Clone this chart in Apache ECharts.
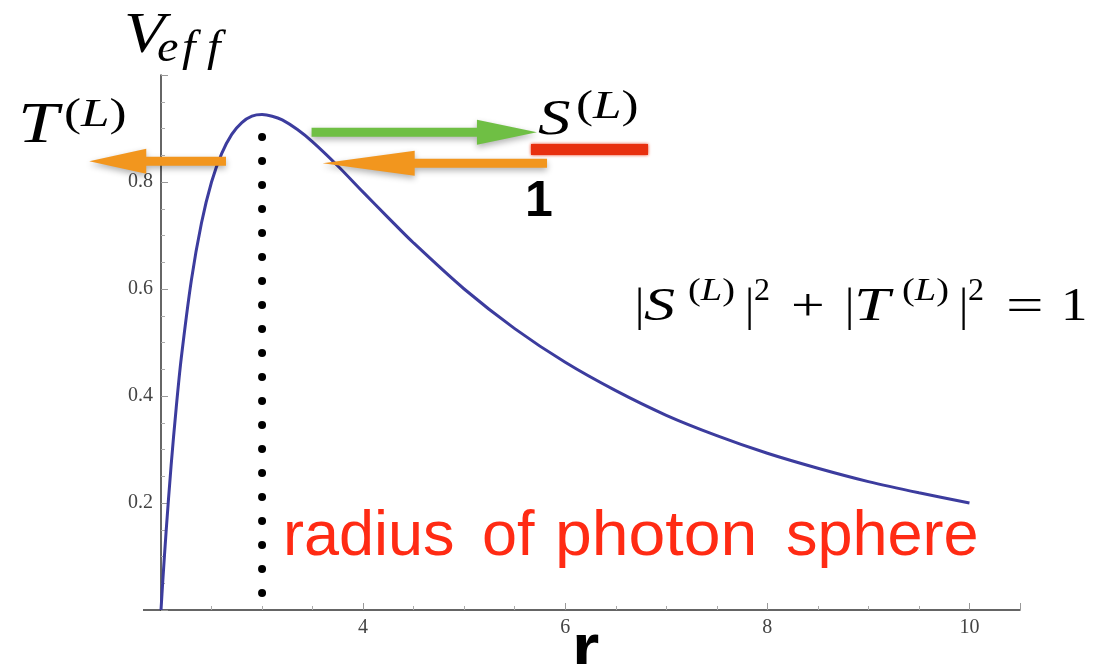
<!DOCTYPE html>
<html><head><meta charset="utf-8">
<script src="https://cdn.jsdelivr.net/npm/echarts@6/dist/echarts.min.js"></script>
<style>html,body{margin:0;padding:0;background:#fff}#c{width:1099px;height:664px}</style>
</head><body><div id="c"></div>
<script>
// ---- data ----
const rValues = [2, 2.01, 2.02, 2.05, 2.1, 2.15, 2.2, 2.3, 2.4, 2.5, 2.6, 2.7, 2.8, 2.9, 3, 3.1, 3.2, 3.35, 3.5, 3.75, 4, 4.25, 4.5, 5, 5.5, 6, 6.5, 7, 7.5, 8, 8.5, 9, 9.5, 10];
const vEff    = [0, 0.031, 0.061, 0.145, 0.27, 0.377, 0.47, 0.616, 0.723, 0.80, 0.853, 0.889, 0.911, 0.923, 0.926, 0.923, 0.916, 0.898, 0.875, 0.83, 0.781, 0.733, 0.686, 0.60, 0.526, 0.463, 0.41, 0.364, 0.326, 0.293, 0.265, 0.24, 0.219, 0.20];
const xTickLabels = [4, 6, 8, 10];
const yTickLabels = [0.2, 0.4, 0.6, 0.8];
const photonR = 3;
const photonTop = 0.884;
const photonBottom = 0.03;
// arrows in data units: start r, tip r, V level
const arrowT  = [2.643, 1.29, 0.839];
const arrowIn = [5.82, 3.60, 0.835];
const arrowS  = [3.49, 5.72, 0.893];

const serif = '"Liberation Serif", "DejaVu Serif", serif';
const sans = '"Liberation Sans", Arial, sans-serif';
const near = (v, list) => list.some(t => Math.abs(t - v) < 1e-6);

const chart = echarts.init(document.getElementById('c'), null, {renderer: 'canvas'});
const axisCommon = {
  type: 'value',
  axisLine: {onZero: false, lineStyle: {color: '#333', width: 1.5}},
  axisTick: {inside: true, length: 7, lineStyle: {color: '#999', width: 1}},
  minorTick: {show: true, splitNumber: 4, length: 4, lineStyle: {color: '#aaa', width: 1}},
  splitLine: {show: false}
};
chart.setOption({
  animation: false,
  backgroundColor: '#fff',
  grid: {left: 161, right: 79, top: 75, bottom: 54},
  xAxis: Object.assign({}, axisCommon, {
    min: 2, max: 10.5, interval: 2,
    axisLabel: {margin: 8, fontFamily: serif, fontSize: 20, color: '#444',
      formatter: v => near(v, xTickLabels) ? String(v) : ''}
  }),
  yAxis: Object.assign({}, axisCommon, {
    min: 0, max: 1, interval: 0.2,
    axisLabel: {margin: 8, fontFamily: serif, fontSize: 20, color: '#444',
      formatter: v => near(v, yTickLabels) ? v.toFixed(1) : ''}
  }),
  series: [
    {type: 'line', data: rValues.map((r, i) => [r, vEff[i]]), showSymbol: false, smooth: 0.3,
     lineStyle: {color: '#3c3c9e', width: 3}, z: 3},
    {type: 'line', data: [[photonR, photonTop], [photonR, photonBottom]], showSymbol: false,
     lineStyle: {color: '#000', width: 8, type: [0, 24], cap: 'round'}, z: 4}
  ]
});

function px(r, v) { return chart.convertToPixel({gridIndex: 0}, [r, v]); }
function arrow(a, color, headLen) {
  const p1 = px(a[0], a[2]), p2 = px(a[1], a[2]);
  const y = p1[1], d = Math.sign(p2[0] - p1[0]);
  const hx = p2[0] - d * headLen, s = 4.5, h = 12.5;
  return {type: 'polygon', z: 100,
    shape: {points: [[p1[0], y - s], [hx, y - s], [hx, y - h], [p2[0], y], [hx, y + h], [hx, y + s], [p1[0], y + s]]},
    style: {fill: color, shadowBlur: 6, shadowColor: 'rgba(0,0,0,0.3)', shadowOffsetY: 3}};
}
function txt(text, x, base, size, o) {
  o = o || {};
  return {type: 'text', x: x, y: base - 0.31 * size, z: 110, scaleX: o.sx || 1,
    style: {text: text, fontFamily: o.family || serif, fontSize: size, fontStyle: o.italic ? 'italic' : 'normal',
      fontWeight: o.weight || 'normal', fill: o.color || '#000', align: 'left', verticalAlign: 'middle'}};
}
function sup(x, base, size, sx) {
  return {type: 'text', x: x, y: base - 0.31 * size, z: 110, scaleX: sx || 1,
    style: {text: '{n|(}{i|L}{n|)}', align: 'left', verticalAlign: 'middle', fill: '#000',
      rich: {n: {fontFamily: serif, fontSize: size, fill: '#000'},
             i: {fontFamily: serif, fontSize: size, fontStyle: 'italic', fill: '#000'}}}};
}
const o = px(2, 0);
const red = '#ff2b14';
const graphics = [
  {type: 'line', shape: {x1: o[0] - 18, y1: o[1], x2: o[0], y2: o[1]}, style: {stroke: '#333', lineWidth: 1.5}},
  arrow(arrowT, '#f2961e', 57),
  arrow(arrowIn, '#f2961e', 92),
  arrow(arrowS, '#6fbf44', 60),
  {type: 'rect', z: 90, shape: {x: 531, y: 144, width: 117, height: 11},
   style: {fill: '#e8300f', shadowBlur: 3, shadowColor: '#e8300f'}},
  // V_eff
  txt('V', 124, 55, 58, {italic: true, sx: 1.15}),
  txt('e', 157, 63, 44, {italic: true, sx: 1.1}),
  txt('f', 182, 63, 44, {italic: true, sx: 1.1}),
  txt('f', 207, 63, 44, {italic: true, sx: 1.1}),
  // T^(L)
  txt('T', 18, 145, 56, {italic: true, sx: 1.3}),
  sup(64, 128, 40, 1.28),
  // S^(L)
  txt('S', 538, 136, 50, {italic: true, sx: 1.3}),
  sup(576, 120, 40, 1.28),
  // 1
  txt('1', 525, 218, 50, {family: sans, weight: 'bold'}),
  // formula
  txt('|', 635, 322, 46),
  txt('S', 644, 322, 46, {italic: true, sx: 1.35}),
  sup(688, 302, 32, 1.2),
  txt('|', 745, 322, 46),
  txt('2', 754, 302, 32),
  txt('+', 791, 322, 46, {sx: 1.3}),
  txt('|', 845, 322, 46),
  txt('T', 854, 322, 46, {italic: true, sx: 1.4}),
  sup(902, 302, 32, 1.2),
  txt('|', 959, 322, 46),
  txt('2', 968, 302, 32),
  txt('=', 1006, 322, 46, {sx: 1.45}),
  txt('1', 1061, 322, 46, {sx: 1.15}),
  // radius of photon sphere
  txt('radius', 283, 557, 63, {family: sans, color: red}),
  txt('of', 482, 557, 63, {family: sans, color: red}),
  txt('photon', 555, 557, 63, {family: sans, color: red, sx: 1.05}),
  txt('sphere', 786, 557, 63, {family: sans, color: red}),
  // axis name r
  txt('r', 572, 674, 70, {family: sans, weight: 'bold'})
];
chart.setOption({graphic: graphics});
</script></body></html>
